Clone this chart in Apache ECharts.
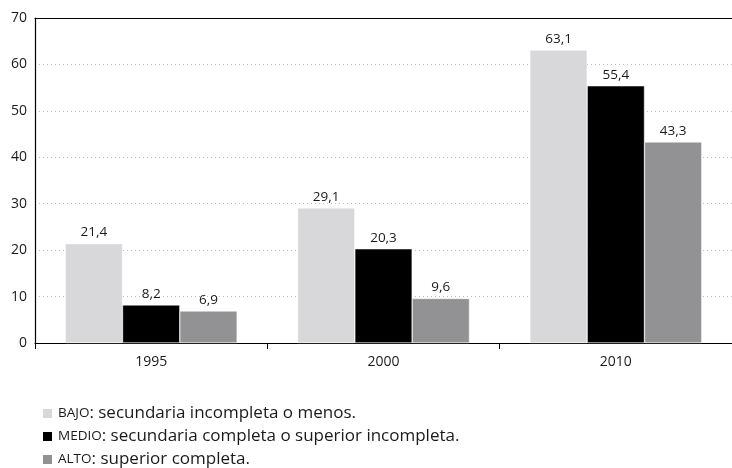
<!DOCTYPE html>
<html><head><meta charset="utf-8">
<script src="https://cdn.jsdelivr.net/npm/echarts@6/dist/echarts.min.js"></script>
<style>html,body{margin:0;padding:0;background:#fff}#c{width:732px;height:468px}</style>
</head><body><div id="c"></div>
<script>
var categories = ['1995', '2000', '2010'];
var bajo = [21.4, 29.1, 63.1];
var medio = [8.2, 20.3, 55.4];
var alto = [6.9, 9.6, 43.3];
var yTicks = [0, 10, 20, 30, 40, 50, 60, 70];
var seriesNames = ['BAJO', 'MEDIO', 'ALTO'];
var legendTexts = {
  BAJO: ': secundaria incompleta o menos.',
  MEDIO: ': secundaria completa o superior incompleta.',
  ALTO: ': superior completa.'
};
var colors = ['#d8d8da', '#000000', '#929295'];
var font = 'Open Sans';
var chart = echarts.init(document.getElementById('c'));
function lbl() {
  return { show: true, position: 'top', distance: 4, color: '#1a1a1a', fontSize: 13.5, fontFamily: font,
    formatter: function (p) { return String(p.value.toFixed(1)).replace('.', ','); } };
}
var data = [bajo, medio, alto];
var legendTops = [400, 423, 446];
chart.setOption({
  animation: false,
  color: colors,
  grid: { left: 35, right: 0, top: 18, bottom: 125 },
  legend: seriesNames.map(function (n, i) {
    return {
      orient: 'vertical', left: 36, top: legendTops[i], itemWidth: 11, itemHeight: 11, itemGap: 7,
      icon: 'rect', selectedMode: false, data: [n],
      formatter: function (name) { return '{sc|' + name + '}{t|' + legendTexts[name] + '}'; },
      textStyle: { fontFamily: font, color: '#1a1a1a',
        rich: { sc: { fontSize: 13.5, fontFamily: font, color: '#1a1a1a' }, t: { fontSize: 17, fontFamily: font, color: '#1a1a1a' } } }
    };
  }),
  xAxis: [{
    type: 'category', data: categories,
    axisLine: { lineStyle: { color: '#000', width: 1.2 } },
    axisTick: { show: true, length: 6, lineStyle: { color: '#000' } },
    axisLabel: { color: '#1a1a1a', fontSize: 14, fontFamily: font, margin: 12 }
  }, {
    type: 'category', data: categories, position: 'top',
    axisLine: { show: true, onZero: false, lineStyle: { color: '#000', width: 1.2 } },
    axisTick: { show: false }, axisLabel: { show: false }
  }],
  yAxis: {
    type: 'value', min: 0, max: 70, interval: 10,
    axisLine: { show: true, lineStyle: { color: '#000', width: 1.2 } },
    axisTick: { show: false },
    axisLabel: { color: '#1a1a1a', fontSize: 14, fontFamily: font, margin: 8,
      formatter: function (v) { return yTicks.indexOf(v) >= 0 ? String(v) : ''; } },
    splitLine: { show: true, lineStyle: { color: '#bbb', type: [1, 3], width: 1 } }
  },
  series: seriesNames.map(function (n, i) {
    return { name: n, type: 'bar', data: data[i], barGap: '0%', barCategoryGap: '26%',
      itemStyle: { color: colors[i], borderColor: '#fff', borderWidth: 0.5 }, label: lbl() };
  })
});
</script></body></html>
